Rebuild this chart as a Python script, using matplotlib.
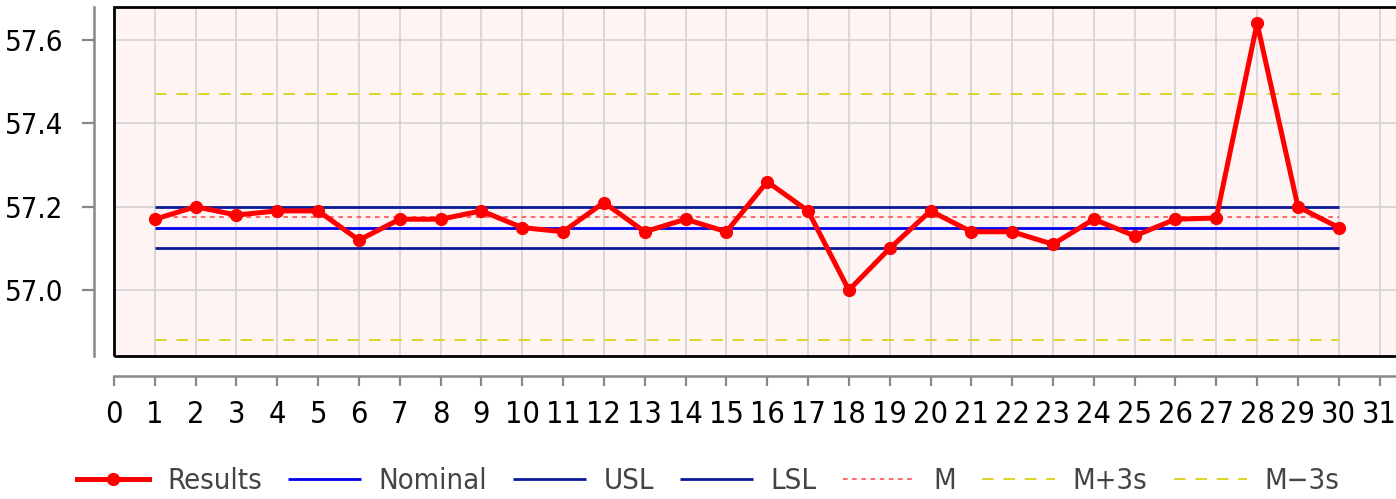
import matplotlib
matplotlib.use("Agg")
import matplotlib.pyplot as plt
from matplotlib.patches import Rectangle

samples = list(range(1, 31))
results = [57.17, 57.20, 57.18, 57.19, 57.19, 57.12, 57.17, 57.17, 57.19, 57.15,
           57.14, 57.21, 57.14, 57.17, 57.14, 57.26, 57.19, 57.00, 57.10, 57.19,
           57.14, 57.14, 57.11, 57.17, 57.13, 57.17, 57.173, 57.64, 57.20, 57.15]

nominal = 57.15
usl = 57.20
lsl = 57.10
mean_val = 57.176
upper_3s = 57.47
lower_3s = 56.88

x_ticks = list(range(0, 32))
y_ticks = [57.0, 57.2, 57.4, 57.6]

plt.rcParams['font.family'] = ['DejaVu Sans Condensed', 'DejaVu Sans']
plt.rcParams['font.stretch'] = 'condensed'

W, H = 1396, 499
fig = plt.figure(figsize=(W / 100, H / 100), dpi=100)
ax = fig.add_axes([114 / W, (H - 356) / H, 1286 / W, 349 / H])
ax.set_facecolor('#fff4f4')

ax.plot(samples, results, color='#ff0000', lw=3.6, marker='o', ms=8.5,
        label='Results', zorder=5)
ax.hlines(nominal, samples[0], samples[-1], color='#0000ee', lw=2.0, label='Nominal', zorder=3)
ax.hlines(usl, samples[0], samples[-1], color='#0a1a9c', lw=2.0, label='USL', zorder=3)
ax.hlines(lsl, samples[0], samples[-1], color='#0a1a9c', lw=2.0, label='LSL', zorder=3)
ax.hlines(mean_val, samples[0], samples[-1], color='#ff4040', lw=1.1,
          linestyles=(0, (3, 3)), label='M', zorder=3)
ax.hlines(upper_3s, samples[0], samples[-1], color='#ddd52a', lw=1.4,
          linestyles=(0, (6, 5)), label='M+3s', zorder=3)
ax.hlines(lower_3s, samples[0], samples[-1], color='#ddd52a', lw=1.4,
          linestyles=(0, (6, 5)), label='M\u22123s', zorder=3)

ax.set_xlim(0, 31.5)
ax.set_ylim(56.842, 57.679)
ax.set_xticks(x_ticks)
ax.set_yticks(y_ticks)
ax.set_yticklabels([f"{v:.1f}" for v in y_ticks])
ax.grid(True, color='#d2d2d2', lw=1.2)
ax.set_axisbelow(True)

# offset gray axes, black frame around plotting area
for side in ['top', 'right']:
    ax.spines[side].set_visible(False)
for side in ['left', 'bottom']:
    ax.spines[side].set_position(('outward', 14.4))
    ax.spines[side].set_color('#888888')
    ax.spines[side].set_linewidth(1.8)
ax.add_patch(Rectangle((0, 0), 1, 1, transform=ax.transAxes, fill=False,
                       edgecolor='black', lw=2, clip_on=False, zorder=6))

ax.tick_params(axis='both', colors='#888888', labelcolor='black', width=1.6,
               labelsize=22)
ax.tick_params(axis='y', length=9, pad=13, labelsize=21)
ax.tick_params(axis='x', length=7.5, pad=10)

handles, labels = ax.get_legend_handles_labels()
leg = fig.legend(handles, labels, loc='center', bbox_to_anchor=(0.507, 0.036),
                 ncol=7, frameon=False, fontsize=21, handlelength=2.5,
                 handletextpad=0.6, columnspacing=0.9)
for t in leg.get_texts():
    t.set_color('#444444')

fig.savefig('out.png', dpi=100)
